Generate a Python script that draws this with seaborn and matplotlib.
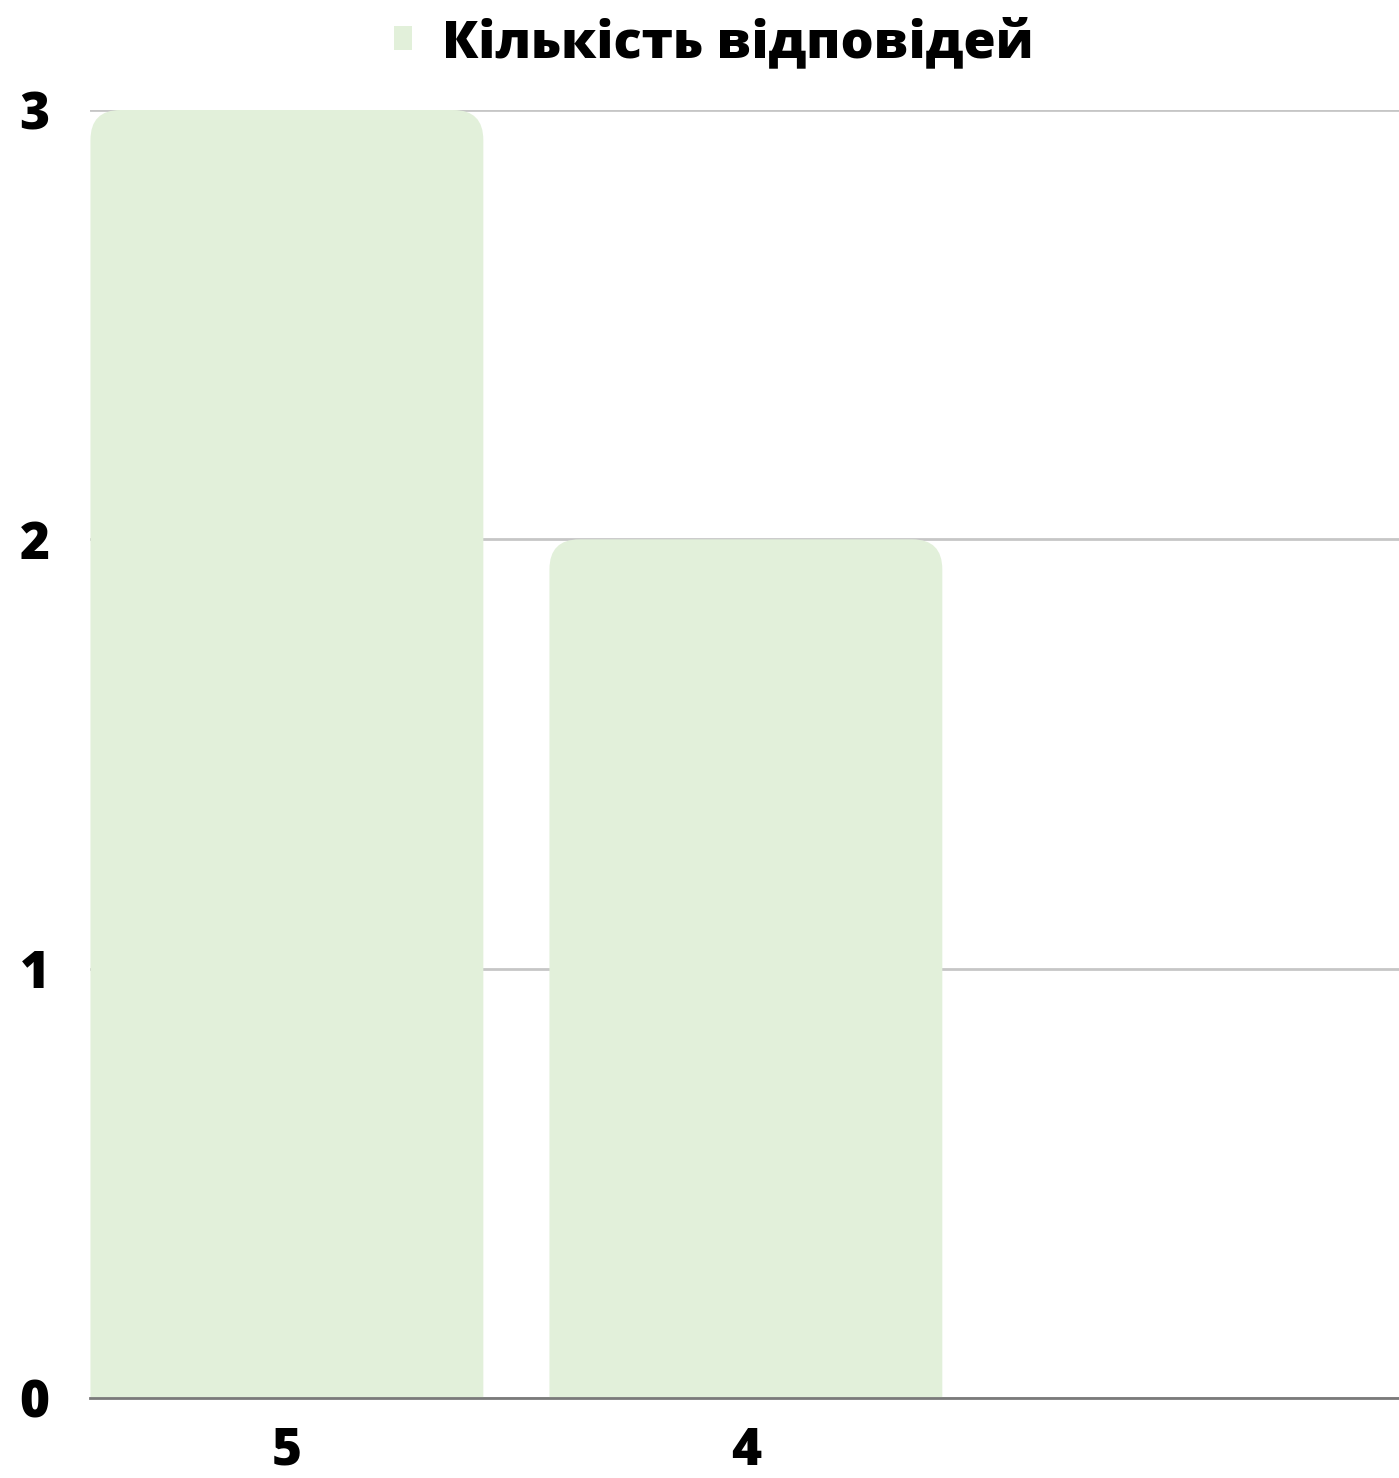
import matplotlib
matplotlib.use("Agg")
import matplotlib.pyplot as plt
import pandas as pd
import seaborn as sns
from matplotlib.patches import FancyBboxPatch, Patch

# data
categories = ["5", "4"]
counts = [3, 2]
series_name = "Кількість відповідей"
bar_color = "#e2f0da"

sns.set_theme(style="white")
plt.rcParams["font.family"] = ["Open Sans", "DejaVu Sans"]
plt.rcParams["font.weight"] = 800
plt.rcParams["text.color"] = "black"

df = pd.DataFrame({"category": categories, "count": counts})

fig = plt.figure(figsize=(13.99, 14.78), dpi=100)
ax = fig.add_axes([90 / 1399, 80 / 1478, 1309 / 1399, 1288 / 1478])

sns.barplot(data=df, x="category", y="count", color=bar_color, width=0.856,
            saturation=1, ax=ax, zorder=2)

# swap the plain bars for ones with rounded top corners;
# the bottom corners hang below y=0 and get clipped by the axes
radius_x = 30 / 459
radius_y = radius_x * 1.07
for p in list(ax.patches):
    x, y = p.get_x(), p.get_y()
    w, h = p.get_width(), p.get_height()
    p.set_visible(False)
    ax.add_patch(FancyBboxPatch((x, y - 2 * radius_y), w, h + 2 * radius_y,
                                boxstyle=f"round,pad=0,rounding_size={radius_x}",
                                mutation_aspect=1.07, fc=bar_color, ec="none", zorder=2))

ax.set_xlim(-0.429, 2.423)
ax.set_ylim(0, 3)
ax.set_yticks([0, 1, 2, 3])
ax.set_xlabel("")
ax.set_ylabel("")
ax.yaxis.grid(True, color="#c6c6c6", lw=2, zorder=0)
ax.set_axisbelow(True)
for s in ["top", "right", "left"]:
    ax.spines[s].set_visible(False)
ax.spines["bottom"].set_color("#7a7a7a")
ax.spines["bottom"].set_linewidth(2)
ax.spines["bottom"].set_zorder(3)
ax.tick_params(axis="both", length=0, labelsize=37, labelcolor="black")
ax.tick_params(axis="y", pad=29)
ax.tick_params(axis="x", pad=20)
for lab in ax.get_xticklabels() + ax.get_yticklabels():
    lab.set_fontweight(800)

handle = Patch(facecolor=bar_color, edgecolor="none", label=series_name)
leg = fig.legend(handles=[handle], loc="center", bbox_to_anchor=(0.510, 1 - 43 / 1478),
                 frameon=False, prop={"size": 37.5, "weight": 800},
                 handlelength=0.35, handleheight=0.35, handletextpad=0.57,
                 borderpad=0, borderaxespad=0)
for t in leg.get_texts():
    t.set_color("black")

fig.savefig("out.png", dpi=100)
